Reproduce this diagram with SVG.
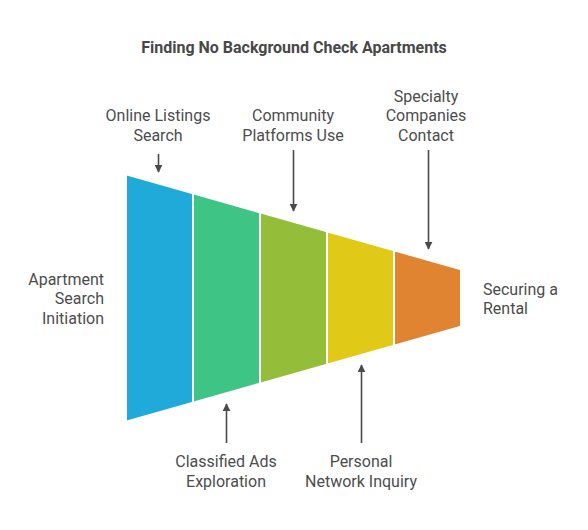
<svg xmlns="http://www.w3.org/2000/svg" width="588" height="530" viewBox="0 0 588 530">
<defs>
<style>
.t{font-family:Roboto,"Liberation Sans",sans-serif;font-size:16px;fill:#4d4d4d}
.title{font-family:Roboto,"Liberation Sans",sans-serif;font-size:16px;font-weight:bold;fill:#484848}
.seg{stroke:#ffffff;stroke-width:2}
.ar{stroke:#4a4a4a;stroke-width:1.6;fill:none;marker-end:url(#ah)}
</style>
<marker id="ah" viewBox="0 0 10 10" refX="9" refY="5" markerWidth="5" markerHeight="5" orient="auto" markerUnits="strokeWidth">
<path d="M0,0 L10,5 L0,10 z" fill="#4a4a4a"/>
</marker>
</defs>
<rect width="588" height="530" fill="#ffffff"/>
<text class="title" x="294" y="53" text-anchor="middle">Finding No Background Check Apartments</text>
<g id="funnel">
<g id="seg1"><polygon class="seg" points="126,174.3 193,193.3 193,402.7 126,421.7" fill="#1FAAD9"/></g>
<g id="seg2"><polygon class="seg" points="193,193.3 260,212.3 260,383.7 193,402.7" fill="#3EC484"/></g>
<g id="seg3"><polygon class="seg" points="260,212.3 327,231.3 327,364.7 260,383.7" fill="#94BD3A"/></g>
<g id="seg4"><polygon class="seg" points="327,231.3 394,250.3 394,345.7 327,364.7" fill="#E0CA17"/></g>
<g id="seg5"><polygon class="seg" points="394,250.3 461,269.3 461,326.7 394,345.7" fill="#E08432"/></g>
</g>
<g id="connectors">
<line class="ar" x1="158.5" y1="154" x2="158.5" y2="172"/>
<line class="ar" x1="293.5" y1="150" x2="293.5" y2="211"/>
<line class="ar" x1="428.5" y1="150" x2="428.5" y2="249"/>
<line class="ar" x1="226.5" y1="443" x2="226.5" y2="404"/>
<line class="ar" x1="361.5" y1="443" x2="361.5" y2="365"/>
</g>
<g id="label-online"><text class="t" x="158" y="121" text-anchor="middle">Online Listings</text><text class="t" x="158" y="140.5" text-anchor="middle">Search</text></g>
<g id="label-community"><text class="t" x="293" y="121" text-anchor="middle">Community</text><text class="t" x="293" y="140.5" text-anchor="middle">Platforms Use</text></g>
<g id="label-specialty"><text class="t" x="426" y="101.5" text-anchor="middle">Specialty</text><text class="t" x="426" y="121" text-anchor="middle">Companies</text><text class="t" x="426" y="140.5" text-anchor="middle">Contact</text></g>
<g id="label-apartment"><text class="t" x="104" y="284.5" text-anchor="end">Apartment</text><text class="t" x="104" y="304" text-anchor="end">Search</text><text class="t" x="104" y="323.5" text-anchor="end">Initiation</text></g>
<g id="label-securing"><text class="t" x="483" y="294.5">Securing a</text><text class="t" x="483" y="314">Rental</text></g>
<g id="label-classified"><text class="t" x="226" y="467" text-anchor="middle">Classified Ads</text><text class="t" x="226" y="486.5" text-anchor="middle">Exploration</text></g>
<g id="label-personal"><text class="t" x="361" y="467" text-anchor="middle">Personal</text><text class="t" x="361" y="486.5" text-anchor="middle">Network Inquiry</text></g>
</svg>
